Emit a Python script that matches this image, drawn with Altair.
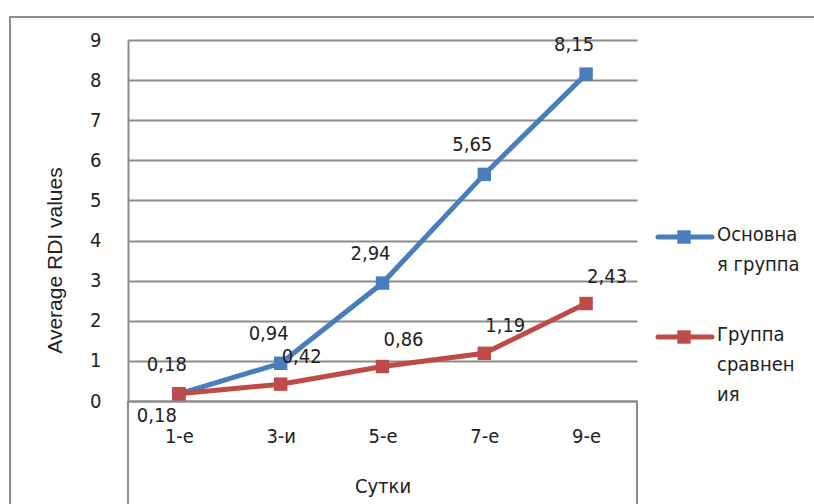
import altair as alt
import pandas as pd

# Days of observation and mean RDI per group
days = ["1-е", "3-и", "5-е", "7-е", "9-е"]
main_group = [0.18, 0.94, 2.94, 5.65, 8.15]
comparison_group = [0.18, 0.42, 0.86, 1.19, 2.43]
series_names = ["Основная группа", "Группа сравнения"]
series_colors = ["#4A7EBB", "#BE4B48"]
legend_lines = [["Основна", "я группа"], ["Группа", "сравнен", "ия"]]
y_ticks = list(range(0, 10))

rows = []
for d, a, b in zip(days, main_group, comparison_group):
    rows.append({"day": d, "group": series_names[0], "value": a, "other": b})
    rows.append({"day": d, "group": series_names[1], "value": b, "other": a})
df = pd.DataFrame(rows)
legend_df = pd.DataFrame({"group": series_names, "lines": legend_lines})

W, H = 509, 361
FONT = "DejaVu Sans Condensed, Liberation Sans Narrow, Liberation Sans"
TXT = "#222222"
GRID = "#8C8C8C"
FS = 20

color_scale = alt.Scale(domain=series_names, range=series_colors)

base = alt.Chart(df).transform_calculate(
    txt="replace(format(datum.value, '.2f'), '.', ',')"
)

x_enc = alt.X(
    "day:N", sort=days,
    scale=alt.Scale(type="point", padding=0.5),
    axis=alt.Axis(title="Сутки", labelAngle=0, labelFontSize=FS, labelFont=FONT,
                  labelColor=TXT, labelPadding=25, ticks=False, domain=True,
                  domainColor=GRID, domainWidth=2, grid=False,
                  titleFontSize=FS, titleFont=FONT, titleFontWeight="normal",
                  titleColor=TXT, titlePadding=30),
)
y_enc = alt.Y(
    "value:Q",
    scale=alt.Scale(domain=[0, 9], nice=False),
    axis=alt.Axis(title="Average RDI values", values=y_ticks, labelFontSize=FS,
                  labelFont=FONT, labelColor=TXT, labelPadding=27, ticks=False,
                  domainColor=GRID, domainWidth=2, gridColor=GRID, gridWidth=2,
                  titleFontSize=21, titleFont="Liberation Sans", titleFontWeight="normal",
                  titleColor=TXT, titlePadding=24, titleY=220),
)
color_enc = alt.Color("group:N", scale=color_scale, legend=None)

lines = base.mark_line(strokeWidth=5).encode(x=x_enc, y=y_enc, color=color_enc)
points = base.mark_point(shape="square", filled=True, size=180, opacity=1).encode(
    x=x_enc, y=y_enc, color=color_enc
)

label_style = dict(fontSize=FS, font=FONT, color=TXT)
main_labels = base.transform_filter(
    alt.datum.group == series_names[0]
).mark_text(dx=-12, dy=-29, **label_style).encode(x=x_enc, y=y_enc, text="txt:N")
comp_labels = base.transform_filter(
    (alt.datum.group == series_names[1]) & (alt.datum.value != alt.datum.other)
).mark_text(dx=21, dy=-27, **label_style).encode(x=x_enc, y=y_enc, text="txt:N")
shared_labels = base.transform_filter(
    (alt.datum.group == series_names[1]) & (alt.datum.value == alt.datum.other)
).mark_text(dx=-22, dy=22, **label_style).encode(x=x_enc, y=y_enc, text="txt:N")

plot = alt.layer(lines, points, main_labels, comp_labels, shared_labels)

# legend: one row per series, placed on its own vertical point scale
leg_y = alt.Y("group:N", sort=series_names,
              scale=alt.Scale(type="point", domain=series_names, range=[197, 297], padding=0),
              axis=None)
leg_base = alt.Chart(legend_df)
leg_line = leg_base.mark_rule(strokeWidth=5, strokeCap="round").encode(
    x=alt.value(530), x2=alt.value(584), y=leg_y, color=color_enc
)
leg_square = leg_base.mark_point(shape="square", filled=True, size=180, opacity=1).encode(
    x=alt.value(556), y=leg_y, color=color_enc
)
leg_text = leg_base.mark_text(
    align="left", baseline="top", dy=-12, lineHeight=30, fontSize=FS, font=FONT, color=TXT
).encode(x=alt.value(589), y=leg_y, text="lines")
legend = alt.layer(leg_line, leg_square, leg_text)

# frame lines below the category axis and the outer chart border
side_rules = alt.Chart(pd.DataFrame({"edge": [0, W]})).mark_rule(
    color=GRID, strokeWidth=2
).encode(x=alt.X("edge:Q", scale=None), y=alt.value(H), y2=alt.value(H + 110))
border = alt.Chart(pd.DataFrame({"k": [0]})).mark_rect(
    fill=None, stroke=GRID, strokeWidth=2
).encode(x=alt.value(-118), x2=alt.value(720), y=alt.value(-23), y2=alt.value(500))

chart = alt.layer(
    border, side_rules, plot, legend
).resolve_scale(y="independent").properties(
    width=W, height=H,
    autosize=alt.AutoSizeParams(type="none"),
    padding={"left": 128, "top": 40, "right": 177, "bottom": 103},
    background="white",
).configure_view(stroke=None)

chart.save("out.html", embed_options={"renderer": "svg", "actions": False})
